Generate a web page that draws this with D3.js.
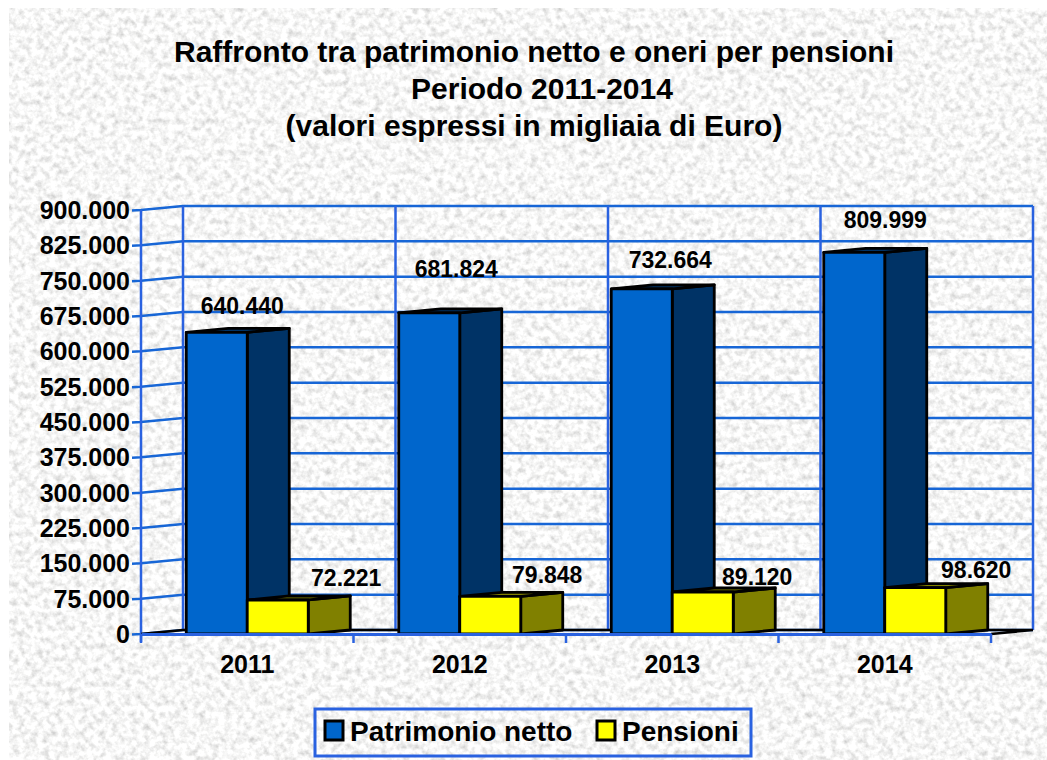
<!DOCTYPE html>
<html><head><meta charset="utf-8">
<script src="https://cdn.jsdelivr.net/npm/d3@7"></script>
<style>html,body{margin:0;padding:0;background:#fff}svg{display:block}text{font-family:"Liberation Sans",Arial,sans-serif;font-weight:bold;fill:#000}</style>
</head><body><div id="c"></div>
<script>
const titleLines = ["Raffronto tra patrimonio netto e oneri per pensioni","Periodo 2011-2014","(valori espressi in migliaia di Euro)"];
const years = ["2011","2012","2013","2014"];
const patrimonio = [640440,681824,732664,809999];
const pensioni = [72221,79848,89120,98620];
const yTicks = [0,75000,150000,225000,300000,375000,450000,525000,600000,675000,750000,825000,900000];
const seriesNames = ["Patrimonio netto","Pensioni"];
const patrimonioLabelNudge = [[25.5,-18],[27,-36],[28.5,-21],[31,-24]];
const pensioniLabelNudge = [[68.5,-14],[57,-13],[54.5,-7],[61,-10]];
const titleShift = [0,8,0];

const W=1047,H=760, left=141,right=991,y0=634,yTop=210, dx=42,dy=-4;
const fmt = v => d3.format(",")(v).replace(/,/g,".");
const svg = d3.select("#c").append("svg").attr("width",W).attr("height",H);
const defs = svg.append("defs");
const f = defs.append("filter").attr("id","tex").attr("x",0).attr("y",0).attr("width","100%").attr("height","100%");
f.append("feTurbulence").attr("type","fractalNoise").attr("baseFrequency",0.16).attr("numOctaves",3).attr("seed",7).attr("result","n");
f.append("feColorMatrix").attr("in","n").attr("type","matrix")
 .attr("values","0.75 0 0 0 0.55  0.75 0 0 0 0.55  0.75 0 0 0 0.545  0 0 0 0 1");
svg.append("rect").attr("x",9).attr("y",8).attr("width",W-9).attr("height",H-8).attr("fill","#ededeb").attr("filter","url(#tex)");

const x = d3.scaleBand().domain(years).range([left,right]);
const bars = d3.scaleBand().domain(seriesNames).range([0,x.bandwidth()]).paddingOuter(0.742).paddingInner(0);
const y = d3.scaleLinear().domain([0,900000]).range([y0,yTop]);
const grid="#2a62e0", gridH="#1766d6";

svg.append("g").selectAll("text").data(titleLines).join("text")
 .attr("x",(d,i)=>534+titleShift[i]).attr("y",(d,i)=>62+i*37).attr("text-anchor","middle").attr("font-size",30).text(d=>d);

const g = svg.append("g").attr("fill","none").attr("stroke-width",2.5);
g.selectAll(".h").data(yTicks).join("path").attr("stroke",gridH)
 .attr("d",d=>d3.line()([[left-9,y(d)+0.5],[left,y(d)],[left+dx,y(d)+dy],[right+dx,y(d)+dy]]));
g.selectAll(".v").data(years.concat("end")).join("line").attr("stroke",grid)
 .attr("x1",(d,i)=>left+dx+i*x.bandwidth()).attr("x2",(d,i)=>left+dx+i*x.bandwidth())
 .attr("y1",y0+dy).attr("y2",yTop+dy);
g.append("line").attr("stroke",grid).attr("x1",left).attr("x2",left).attr("y1",yTop).attr("y2",y0+8);
svg.append("path").attr("fill","none").attr("stroke","#000").attr("stroke-width",2.5)
 .attr("d",d3.line()([[left,y0],[left+dx,y0+dy],[right+dx,y0+dy],[right,y0]]));

function box(sel,xl,w,yv,front,side,topc){
  const t=y(yv), b=y0;
  const a=sel.append("g").attr("stroke","#000").attr("stroke-width",2.8).attr("stroke-linejoin","round");
  a.append("path").attr("fill",side).attr("d",d3.line()([[xl+w,t],[xl+w+dx,t+dy],[xl+w+dx,b+dy],[xl+w,b]])+"Z");
  a.append("path").attr("fill",topc).attr("d",d3.line()([[xl,t],[xl+dx,t+dy],[xl+w+dx,t+dy],[xl+w,t]])+"Z");
  a.append("rect").attr("x",xl).attr("y",t).attr("width",w).attr("height",b-t).attr("fill",front);
}
const plot = svg.append("g");
years.forEach((yr,i)=>{
  const x0=x(yr);
  box(plot,x0+bars(seriesNames[0]),bars.bandwidth(),patrimonio[i],"#0066cc","#003366","#003366");
  box(plot,x0+bars(seriesNames[1]),bars.bandwidth(),pensioni[i],"#ffff00","#808000","#808000");
});
const xAxisG = svg.append("g").attr("transform",`translate(0,${y0})`)
 .call(d3.axisBottom(x).tickSize(0).tickPadding(21));
xAxisG.select(".domain").attr("stroke",grid).attr("stroke-width",3);
xAxisG.selectAll("text").attr("font-size",25).attr("font-family",null);
svg.append("g").selectAll("line").data(d3.range(years.length+1)).join("line")
 .attr("x1",i=>left+i*x.bandwidth()).attr("x2",i=>left+i*x.bandwidth())
 .attr("y1",y0).attr("y2",y0+9).attr("stroke",grid).attr("stroke-width",2.5);
svg.append("g").selectAll("text").data(yTicks).join("text")
 .attr("x",130).attr("y",d=>y(d)+9).attr("text-anchor","end").attr("font-size",25).text(fmt);
const lab = svg.append("g").attr("text-anchor","middle").attr("font-size",23);
years.forEach((yr,i)=>{
  const xa=x(yr)+bars(seriesNames[0])+bars.bandwidth()/2;
  lab.append("text").attr("x",xa+patrimonioLabelNudge[i][0]).attr("y",y(patrimonio[i])+patrimonioLabelNudge[i][1]).text(fmt(patrimonio[i]));
  lab.append("text").attr("x",xa+bars.bandwidth()+pensioniLabelNudge[i][0]).attr("y",y(pensioni[i])+pensioniLabelNudge[i][1]).text(fmt(pensioni[i]));
});
svg.append("rect").attr("x",315).attr("y",709).attr("width",436).attr("height",47).attr("fill","none").attr("stroke",grid).attr("stroke-width",3);
const legX=[325,597];
const legC=["#0066cc","#ffff00"];
seriesNames.forEach((n,i)=>{
  svg.append("rect").attr("x",legX[i]).attr("y",721).attr("width",18).attr("height",19).attr("fill",legC[i]).attr("stroke","#000").attr("stroke-width",3);
  svg.append("text").attr("x",legX[i]+25).attr("y",741).attr("font-size",28).text(n);
});
</script></body></html>
